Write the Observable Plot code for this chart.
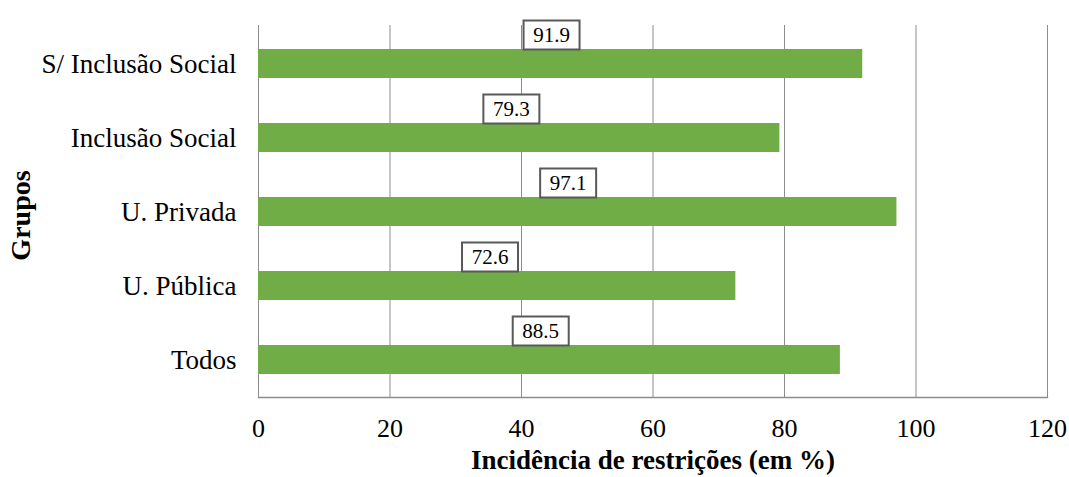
<!DOCTYPE html>
<html>
<head>
<meta charset="utf-8">
<script src="https://cdn.jsdelivr.net/npm/d3@7"></script>
<script src="https://cdn.jsdelivr.net/npm/@observablehq/plot@0.6"></script>
<style>
  html, body { margin: 0; padding: 0; background: #fff; }
  #chart svg { display: block; }
</style>
</head>
<body>
<div id="chart"></div>
<script>
const groups = ["S/ Inclusão Social", "Inclusão Social", "U. Privada", "U. Pública", "Todos"];
const values = [91.9, 79.3, 97.1, 72.6, 88.5];
const xTicks = [0, 20, 40, 60, 80, 100, 120];
const xTitle = "Incidência de restrições (em %)";
const yTitle = "Grupos";

const data = groups.map((g, i) => ({group: g, value: values[i]}));

const boxSymbol = {
  draw(context) {
    const w = 56, h = 29;
    context.moveTo(-w / 2, -h / 2);
    context.lineTo(w / 2, -h / 2);
    context.lineTo(w / 2, h / 2);
    context.lineTo(-w / 2, h / 2);
    context.closePath();
  }
};

const font = "Liberation Serif";
const gridColor = "#8c8c8c";

const chart = Plot.plot({
  width: 1069,
  height: 477,
  marginLeft: 258,
  marginRight: 22,
  marginTop: 25,
  marginBottom: 80,
  style: {fontFamily: font, fontSize: "26px", color: "#000", background: "#fff"},
  x: {domain: [0, 120], ticks: xTicks},
  y: {domain: groups, paddingInner: 0.61, paddingOuter: 0.305},
  marks: [
    Plot.gridX(xTicks, {stroke: gridColor, strokeOpacity: 1, strokeWidth: 1}),
    Plot.frame({anchor: "bottom", stroke: gridColor, strokeWidth: 1.3}),
    Plot.barX(data, {x: "value", y: "group", fill: "#70AD47"}),
    Plot.dot(data, {x: d => d.value * 0.485, y: "group", dy: -29, symbol: boxSymbol, r: 10,
      fill: "white", stroke: "#595959", strokeWidth: 2}),
    Plot.text(data, {x: d => d.value * 0.485, y: "group", dy: -29, text: d => d.value.toFixed(1),
      fontSize: 21, fill: "#000"}),
    Plot.axisX({ticks: xTicks, tickSize: 0, tickPadding: 21, label: null, fontSize: 26, fill: "#000"}),
    Plot.axisY({tickSize: 0, tickPadding: 22, label: null, fontSize: 27, fill: "#000"}),
    Plot.text([xTitle], {frameAnchor: "bottom", dy: 71, fontWeight: "bold", fontSize: 27, fill: "#000"}),
    Plot.text([yTitle], {frameAnchor: "left", textAnchor: "middle", dx: -237, dy: 4, rotate: -90,
      fontWeight: "bold", fontSize: 28, fill: "#000"})
  ]
});

chart.setAttribute("font-family", font);
chart.style.fontFamily = font;
chart.querySelectorAll("g, text, tspan").forEach(el => {
  if (el.hasAttribute("font-family")) el.setAttribute("font-family", font);
  el.style.fontFamily = font;
});

document.getElementById("chart").appendChild(chart);
</script>
</body>
</html>
